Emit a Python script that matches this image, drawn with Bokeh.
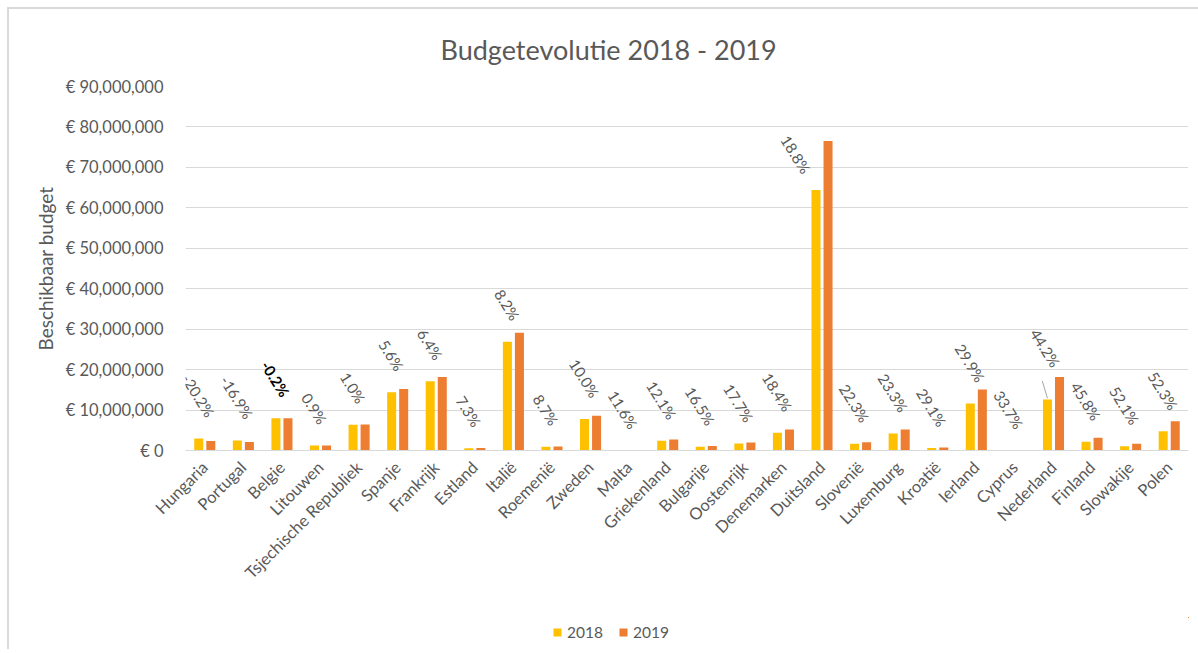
import math
from bokeh.plotting import figure
from bokeh.layouts import column
from bokeh.models import (ColumnDataSource, Range1d, FixedTicker, CustomJSTickFormatter,
                          Legend, LegendItem, Title)
from bokeh.transform import dodge
from bokeh.core.properties import value
from bokeh.embed import file_html
from bokeh.resources import INLINE

countries = ["Hungaria", "Portugal", "Belgie", "Litouwen", "Tsjechische Republiek", "Spanje",
             "Frankrijk", "Estland", "Italië", "Roemenië", "Zweden", "Malta", "Griekenland",
             "Bulgarije", "Oostenrijk", "Denemarken", "Duitsland", "Slovenië", "Luxemburg",
             "Kroatië", "Ierland", "Cyprus", "Nederland", "Finland", "Slowakije", "Polen"]

# budgets in millions of euro
budget_2018 = [2.95, 2.50, 8.00, 1.24, 6.35, 14.4, 17.1, 0.57, 26.9, 0.90, 7.80, 0.05, 2.40,
               0.95, 1.70, 4.40, 64.4, 1.65, 4.20, 0.60, 11.6, 0.05, 12.6, 2.15, 1.08, 4.75]
budget_2019 = [2.35, 2.08, 7.98, 1.25, 6.41, 15.2, 18.2, 0.61, 29.1, 0.98, 8.58, 0.056, 2.69,
               1.11, 2.00, 5.21, 76.5, 2.02, 5.18, 0.77, 15.07, 0.067, 18.17, 3.13, 1.64, 7.23]

pct_labels = ["-20.2%", "-16.9%", "-0.2%", "0.9%", "1.0%", "5.6%", "6.4%", "7.3%", "8.2%",
              "8.7%", "10.0%", "11.6%", "12.1%", "16.5%", "17.7%", "18.4%", "18.8%", "22.3%",
              "23.3%", "29.1%", "29.9%", "33.7%", "44.2%", "45.8%", "52.1%", "52.3%"]

y_ticks = [0, 10e6, 20e6, 30e6, 40e6, 50e6, 60e6, 70e6, 80e6, 90e6]
series_names = ["2018", "2019"]

FONT = "Lato"
GREY = "#595959"
C18 = "#FFC000"
C19 = "#ED7D31"
LBL_SIZE = 15
ANG = math.radians(58)

# approximate label widths for placing rotated labels above the bars
cw = {"-": 0.30, ".": 0.23, "%": 0.78}
def text_w(s):
    return sum(cw.get(ch, 0.58) for ch in s) * LBL_SIZE

nudge = {"Duitsland": (-20, 5), "Nederland": (-2, -11)}
xo, yo, colors, styles = [], [], [], []
for c, s in zip(countries, pct_labels):
    dx, dy = nudge.get(c, (0, 0))
    xo.append(text_w(s) / 2 * math.cos(ANG) + dx)
    yo.append(-23 + dy)
    colors.append("#000000" if c == "Belgie" else GREY)
    styles.append("bold" if c == "Belgie" else "normal")

src = ColumnDataSource(dict(
    country=countries,
    v18=[v * 1e6 for v in budget_2018],
    v19=[v * 1e6 for v in budget_2019],
    pct=pct_labels, xo=xo, yo=yo, col=colors, sty=styles,
))

p = figure(x_range=countries, y_range=Range1d(0, 90e6), width=1189, height=608,
           output_backend="svg", toolbar_location=None,
           min_border_left=176, min_border_right=10, min_border_top=77, min_border_bottom=167)
p.outline_line_color = None

t = Title(text="Budgetevolutie 2018 - 2019", align="left", offset=255,
          text_font=FONT, text_font_size="27px", text_color=GREY, text_font_style="normal",
          standoff=42)
p.add_layout(t, "above")

p.vbar(x=dodge("country", -0.156, range=p.x_range), top="v18", width=0.234,
       source=src, fill_color=C18, line_color=None)
p.vbar(x=dodge("country", 0.156, range=p.x_range), top="v19", width=0.234,
       source=src, fill_color=C19, line_color=None)

p.text(x=dodge("country", -0.156, range=p.x_range), y="v18", text="pct", source=src,
       angle=-ANG, text_align="right", text_baseline="middle",
       x_offset="xo", y_offset="yo", text_color="col", text_font_style="sty",
       text_font=value(FONT), text_font_size=f"{LBL_SIZE}px")

# leader line of the moved "Nederland" label
i_nl = countries.index("Nederland")
v_nl = budget_2018[i_nl] * 1e6
leader = ColumnDataSource(dict(x=[countries[i_nl]], y0=[v_nl + 0.3e6], y1=[v_nl + 4.6e6]))
p.segment(x0=dodge("x", -0.156, range=p.x_range), y0="y0",
          x1=dodge("x", -0.29, range=p.x_range), y1="y1",
          source=leader, line_color="#A6A6A6", line_width=1)

p.xgrid.grid_line_color = None
p.ygrid.grid_line_color = "#D9D9D9"
p.ygrid.grid_line_width = 1

p.yaxis.ticker = FixedTicker(ticks=y_ticks)
p.yaxis.formatter = CustomJSTickFormatter(
    code="return '€ ' + Math.round(tick).toLocaleString('en-US');")
p.yaxis.axis_line_color = None
p.yaxis.major_tick_line_color = None
p.yaxis.minor_tick_line_color = None
p.yaxis.major_label_standoff = 16
p.yaxis.major_label_text_font = FONT
p.yaxis.major_label_text_font_size = "16.5px"
p.yaxis.major_label_text_color = GREY
p.yaxis.axis_label = "Beschikbaar budget"
p.yaxis.axis_label_text_font = FONT
p.yaxis.axis_label_text_font_size = "19px"
p.yaxis.axis_label_text_font_style = "normal"
p.yaxis.axis_label_text_color = GREY
p.yaxis.axis_label_standoff = 6

p.xaxis.axis_line_color = "#D9D9D9"
p.xaxis.major_tick_line_color = None
p.xaxis.minor_tick_line_color = None
p.xaxis.major_label_orientation = math.pi / 4
p.xaxis.major_label_standoff = 8
p.xaxis.major_label_text_font = FONT
p.xaxis.major_label_text_font_size = "16.5px"
p.xaxis.major_label_text_color = GREY

# legend strip below the chart; its zero-size bars lie outside the strip's range
pl = figure(width=1189, height=32, output_backend="svg", toolbar_location=None,
            x_axis_location=None, y_axis_location=None, min_border=0,
            x_range=Range1d(0, 1), y_range=Range1d(0, 1))
pl.outline_line_color = None
pl.grid.grid_line_color = None
l18 = pl.vbar(x="v18", top="v18", bottom="v18", width=0, source=src,
              fill_color=C18, line_color=None)
l19 = pl.vbar(x="v19", top="v19", bottom="v19", width=0, source=src,
              fill_color=C19, line_color=None)
legend = Legend(items=[LegendItem(label=series_names[0], renderers=[l18]),
                       LegendItem(label=series_names[1], renderers=[l19])],
                orientation="horizontal", location=(367, 7),
                glyph_width=10, glyph_height=10, label_standoff=5, spacing=15,
                label_height=20, padding=0, margin=0, border_line_color=None,
                background_fill_alpha=0,
                label_text_font=FONT, label_text_font_size="15.5px", label_text_color=GREY)
pl.add_layout(legend, "center")

layout = column(p, pl, spacing=0)
layout.styles = {"margin-left": "7px", "margin-top": "7px",
                 "border-left": "2px solid #D9D9D9", "border-top": "2px solid #D9D9D9"}

open("out.html", "w").write(file_html(layout, INLINE))
